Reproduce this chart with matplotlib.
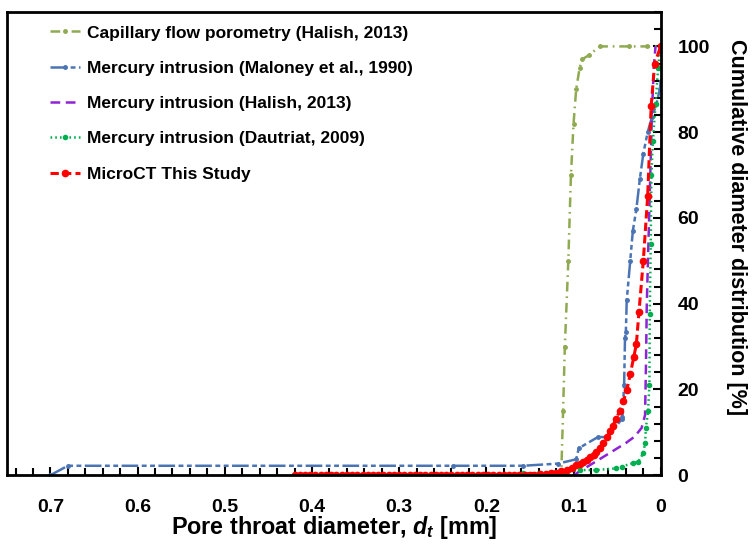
import matplotlib
matplotlib.use("Agg")
import matplotlib.pyplot as plt
from matplotlib.ticker import MultipleLocator

plt.rcParams["font.family"] = ["Liberation Sans", "DejaVu Sans"]
plt.rcParams["font.weight"] = "bold"
plt.rcParams["mathtext.fontset"] = "custom"
plt.rcParams["mathtext.rm"] = "Liberation Sans:bold"
plt.rcParams["mathtext.it"] = "Liberation Sans:italic:bold"
plt.rcParams["lines.scale_dashes"] = False

# --- data (x = pore throat diameter [mm], y = cumulative %) ---
cfp_x = [0.125, 0.114, 0.112, 0.110, 0.106, 0.103, 0.100, 0.097, 0.093, 0.090, 0.082, 0.070, 0.036, 0.016, 0.0]
cfp_y = [0.0, 1.0, 15.0, 30.0, 50.0, 70.0, 82.0, 90.0, 95.0, 97.0, 98.0, 100.0, 100.0, 100.0, 100.0]

mal_x = [0.700, 0.680, 0.238, 0.158, 0.118, 0.097, 0.094, 0.072, 0.061, 0.045, 0.044, 0.042, 0.041, 0.040,
         0.039, 0.035, 0.032, 0.028, 0.024, 0.020, 0.015, 0.010, 0.005, 0.001, 0.0]
mal_y = [0.0, 2.2, 2.2, 2.2, 2.7, 3.7, 6.3, 8.9, 8.9, 13.0, 13.5, 21.0, 32.0, 33.5,
         40.8, 50.0, 57.0, 62.0, 69.0, 75.0, 80.0, 83.5, 86.5, 90.0, 92.0]

hal_x = [0.100, 0.080, 0.060, 0.040, 0.030, 0.022, 0.018, 0.017, 0.016, 0.014, 0.012, 0.010, 0.008, 0.006]
hal_y = [0.0, 2.5, 5.0, 7.5, 9.0, 11.0, 14.0, 25.0, 40.0, 55.0, 70.0, 85.0, 95.0, 100.0]

dau_x = [0.180, 0.158, 0.140, 0.125, 0.110, 0.093, 0.074, 0.051, 0.045, 0.032, 0.026, 0.020, 0.018, 0.017,
         0.0146, 0.013, 0.0126, 0.0115, 0.0107, 0.009, 0.006, 0.003, 0.001]
dau_y = [0.0, 0.4, 0.5, 0.6, 0.8, 1.2, 1.2, 1.6, 2.0, 2.8, 3.1, 5.1, 7.5, 11.0,
         15.0, 21.0, 37.5, 54.0, 70.0, 78.0, 86.5, 95.0, 99.0]

ct_x = [0.420, 0.414, 0.408, 0.402, 0.396, 0.390, 0.384, 0.378, 0.372, 0.366, 0.360, 0.354, 0.348, 0.342,
        0.336, 0.330, 0.324, 0.318, 0.312, 0.306, 0.300, 0.294, 0.288, 0.282, 0.276, 0.270, 0.264, 0.258,
        0.252, 0.246, 0.240, 0.234, 0.228, 0.222, 0.216, 0.210, 0.204, 0.198, 0.192, 0.186, 0.180, 0.174,
        0.168, 0.162, 0.156, 0.150, 0.145, 0.138, 0.132, 0.126, 0.120, 0.114, 0.108, 0.102, 0.097, 0.093,
        0.089, 0.085, 0.081, 0.077, 0.074, 0.070, 0.066, 0.062, 0.058, 0.055, 0.051, 0.047, 0.043, 0.039,
        0.035, 0.031, 0.028, 0.025, 0.020, 0.015, 0.011, 0.007, 0.0]
ct_y = [0.0, 0.0, 0.0, 0.0, 0.0, 0.0, 0.0, 0.0, 0.0, 0.0, 0.0, 0.0, 0.0, 0.0,
        0.0, 0.0, 0.0, 0.0, 0.0, 0.0, 0.0, 0.0, 0.0, 0.0, 0.0, 0.0, 0.0, 0.0,
        0.0, 0.0, 0.0, 0.0, 0.0, 0.0, 0.0, 0.0, 0.0, 0.0, 0.0, 0.0, 0.0, 0.0,
        0.0, 0.0, 0.0, 0.0, 0.1, 0.2, 0.3, 0.4, 0.6, 0.9, 1.2, 1.7, 2.3, 2.7,
        3.1, 3.6, 4.2, 4.8, 5.4, 6.3, 7.5, 8.8, 10.2, 11.5, 13.2, 15.0, 17.2, 19.8,
        23.5, 27.5, 30.5, 38.0, 50.0, 65.0, 86.0, 96.0, 100.0]

fig = plt.figure(figsize=(7.56, 5.5), dpi=100)
ax = fig.add_axes([0.009, 0.136, 0.865, 0.842])

ax.plot(cfp_x, cfp_y, color="#8FAA50", lw=1.8, dashes=(7, 3.5, 1.2, 3.5),
        marker="o", ms=2.5, label="Capillary flow porometry (Halish, 2013)")
ax.plot(mal_x, mal_y, color="#4A74B4", lw=1.8, dashes=(12, 2.5, 3.5, 2.5, 3.5, 2.5),
        marker="o", ms=2.5, label="Mercury intrusion (Maloney et al., 1990)")
ax.plot(hal_x, hal_y, color="#8E22D6", lw=1.8, dashes=(7, 4),
        label="Mercury intrusion (Halish, 2013)")
ax.plot(dau_x, dau_y, color="#00B050", lw=1.8, dashes=(1.2, 2.2),
        marker="o", ms=3, label="Mercury intrusion (Dautriat, 2009)")
ax.plot(ct_x, ct_y, color="#FF0000", lw=2.2, dashes=(6, 3),
        marker="o", ms=4.5, label="MicroCT This Study")

ax.set_xlim(0.75, 0.0)
ax.set_ylim(0, 108)
ax.xaxis.set_minor_locator(MultipleLocator(0.02))
ax.yaxis.set_major_locator(MultipleLocator(20))
ax.yaxis.set_minor_locator(MultipleLocator(4))
ax.set_xticks([0.7, 0.6, 0.5, 0.4, 0.3, 0.2, 0.1, 0.0])
ax.set_xticklabels(["0.7", "0.6", "0.5", "0.4", "0.3", "0.2", "0.1", "0"])

ax.yaxis.tick_right()
ax.yaxis.set_label_position("right")
ax.tick_params(axis="both", which="both", direction="in", width=1.5, labelsize=14)
ax.tick_params(axis="both", which="major", length=6)
ax.tick_params(axis="both", which="minor", length=5)
ax.tick_params(axis="x", which="major", pad=17)
ax.tick_params(axis="y", which="major", pad=12)
ax.tick_params(axis="y", which="both", left=False, right=True)
ax.tick_params(axis="x", which="both", top=False, bottom=True)
for lab in ax.get_xticklabels() + ax.get_yticklabels():
    lab.set_fontweight("bold")
for spine in ax.spines.values():
    spine.set_linewidth(2)
    spine.set_color("black")

ax.set_xlabel("Pore throat diameter, $d_t$ [mm]", fontsize=16.8, fontweight="bold", labelpad=-1)
ax.set_ylabel("Cumulative diameter distribution [%]", fontsize=15.5, fontweight="bold",
              rotation=270, labelpad=27)
ax.yaxis.label.set_y(0.535)

ax.legend(loc="upper left", bbox_to_anchor=(0.053, 0.99), frameon=False,
          prop={"size": 12.5, "weight": "bold"}, handlelength=1.7, handletextpad=0.4,
          labelspacing=1.16, borderpad=0)

fig.savefig("out.png", dpi=100)
plt.close(fig)
